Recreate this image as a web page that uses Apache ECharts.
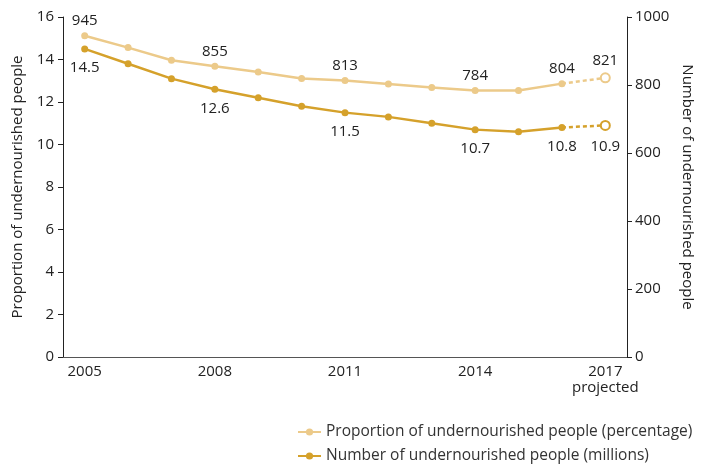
<!DOCTYPE html>
<html>
<head>
<meta charset="utf-8">
<script src="https://cdn.jsdelivr.net/npm/echarts@6/dist/echarts.min.js"></script>
<style>
  html, body { margin: 0; padding: 0; background: #fff; }
  #chart { width: 710px; height: 464px; }
</style>
</head>
<body>
<div id="chart"></div>
<script>
// years on the x axis
var years = ['2005', '2006', '2007', '2008', '2009', '2010', '2011', '2012', '2013', '2014', '2015', '2016', '2017'];
// light line, read against the right axis
var lightValues = [945, 910, 873, 855, 838, 819, 813, 803, 793, 784, 784, 804, 821];
// dark line, read against the left axis
var darkValues = [14.5, 13.8, 13.1, 12.6, 12.2, 11.8, 11.5, 11.3, 11.0, 10.7, 10.6, 10.8, 10.9];
// years whose values get a label
var labelledYears = ['2005', '2008', '2011', '2014', '2016', '2017'];
var shownTicks = ['2005', '2008', '2011', '2014', '2017'];
var projectedYear = '2017';
var legendNames = ['Proportion of undernourished people (percentage)', 'Number of undernourished people (millions)'];

var LIGHT = '#ECCA8A';
var DARK = '#D5A12B';
var FONT = 'Open Sans';
var FS = 15;

// solid part stops before the projected year
function solidPart(vals) {
  return vals.map(function (v, i) { return years[i] === projectedYear ? null : v; });
}
// dashed part joins the last real year to the projected one
function dashedPart(vals) {
  var p = years.indexOf(projectedYear);
  return vals.map(function (v, i) {
    if (i === p) return { value: v, symbol: 'emptyCircle' };
    if (i === p - 1) return { value: v, symbol: 'none' };
    return null;
  });
}
function labelFn(p) {
  return labelledYears.indexOf(p.name) >= 0 ? String(p.value) : '';
}
function projLabel(p) {
  return p.name === projectedYear ? String(p.value) : '';
}
function legendAt(name, top) {
  return {
    left: 292,
    top: top,
    itemWidth: 23,
    itemHeight: 9,
    itemGap: 0,
    textStyle: { fontSize: 15.5, color: '#333', fontFamily: FONT },
    data: [name]
  };
}

var chart = echarts.init(document.getElementById('chart'));
var option = {
  animation: false,
  textStyle: { fontFamily: FONT },
  grid: { left: 63, right: 83, top: 17, bottom: 107 },
  legend: [legendAt(legendNames[0], 419), legendAt(legendNames[1], 443)],
  xAxis: {
    type: 'category',
    data: years,
    boundaryGap: true,
    axisLine: { lineStyle: { color: '#555', width: 1 } },
    axisTick: { show: false },
    axisLabel: {
      interval: 0,
      margin: 7,
      fontSize: FS,
      color: '#222',
      formatter: function (v) {
        if (shownTicks.indexOf(v) < 0) return '';
        return v === projectedYear ? v + '\n{p|projected}' : v;
      },
      rich: { p: { fontSize: FS, color: '#222', fontFamily: FONT, lineHeight: 18 } }
    }
  },
  yAxis: [
    {
      type: 'value',
      min: 0, max: 16, interval: 2,
      name: 'Proportion of undernourished people',
      nameLocation: 'middle',
      nameRotate: 90,
      nameGap: 38,
      nameTextStyle: { fontSize: FS, color: '#222' },
      axisLine: { show: true, lineStyle: { color: '#222' } },
      axisTick: { show: true, length: 5, lineStyle: { color: '#222' } },
      axisLabel: { fontSize: FS, color: '#222', margin: 9 },
      splitLine: { show: false }
    },
    {
      type: 'value',
      min: 0, max: 1000, interval: 200,
      position: 'right',
      name: 'Number of undernourished people',
      nameLocation: 'middle',
      nameRotate: -90,
      nameGap: 45,
      nameTextStyle: { fontSize: FS, color: '#222' },
      axisLine: { show: true, lineStyle: { color: '#222' } },
      axisTick: { show: true, length: 5, lineStyle: { color: '#222' } },
      axisLabel: { fontSize: FS, color: '#222', margin: 8, formatter: function (v) { return String(v); } },
      splitLine: { show: false }
    }
  ],
  series: [
    {
      name: legendNames[0],
      type: 'line',
      yAxisIndex: 1,
      data: solidPart(lightValues),
      symbol: 'circle',
      symbolSize: 7,
      color: LIGHT,
      lineStyle: { color: LIGHT, width: 2.5 },
      itemStyle: { color: LIGHT },
      label: { show: true, position: 'top', distance: 4, fontSize: FS, color: '#222', formatter: labelFn },
      z: 2
    },
    {
      name: legendNames[0] + ' projected',
      type: 'line',
      yAxisIndex: 1,
      data: dashedPart(lightValues),
      symbolSize: 9,
      lineStyle: { color: LIGHT, width: 2.5, type: [4, 3] },
      itemStyle: { color: LIGHT, borderWidth: 1.5 },
      label: { show: true, position: 'top', distance: 4, fontSize: FS, color: '#222', formatter: projLabel },
      z: 2
    },
    {
      name: legendNames[1],
      type: 'line',
      yAxisIndex: 0,
      data: solidPart(darkValues),
      symbol: 'circle',
      symbolSize: 7,
      color: DARK,
      lineStyle: { color: DARK, width: 2.5 },
      itemStyle: { color: DARK },
      label: { show: true, position: 'bottom', distance: 8, fontSize: FS, color: '#222', formatter: labelFn },
      z: 3
    },
    {
      name: legendNames[1] + ' projected',
      type: 'line',
      yAxisIndex: 0,
      data: dashedPart(darkValues),
      symbolSize: 9,
      lineStyle: { color: DARK, width: 2.5, type: [4, 3] },
      itemStyle: { color: DARK, borderWidth: 1.5 },
      label: { show: true, position: 'bottom', distance: 8, fontSize: FS, color: '#222', formatter: projLabel },
      z: 3
    }
  ]
};
chart.setOption(option);
</script>
</body>
</html>
